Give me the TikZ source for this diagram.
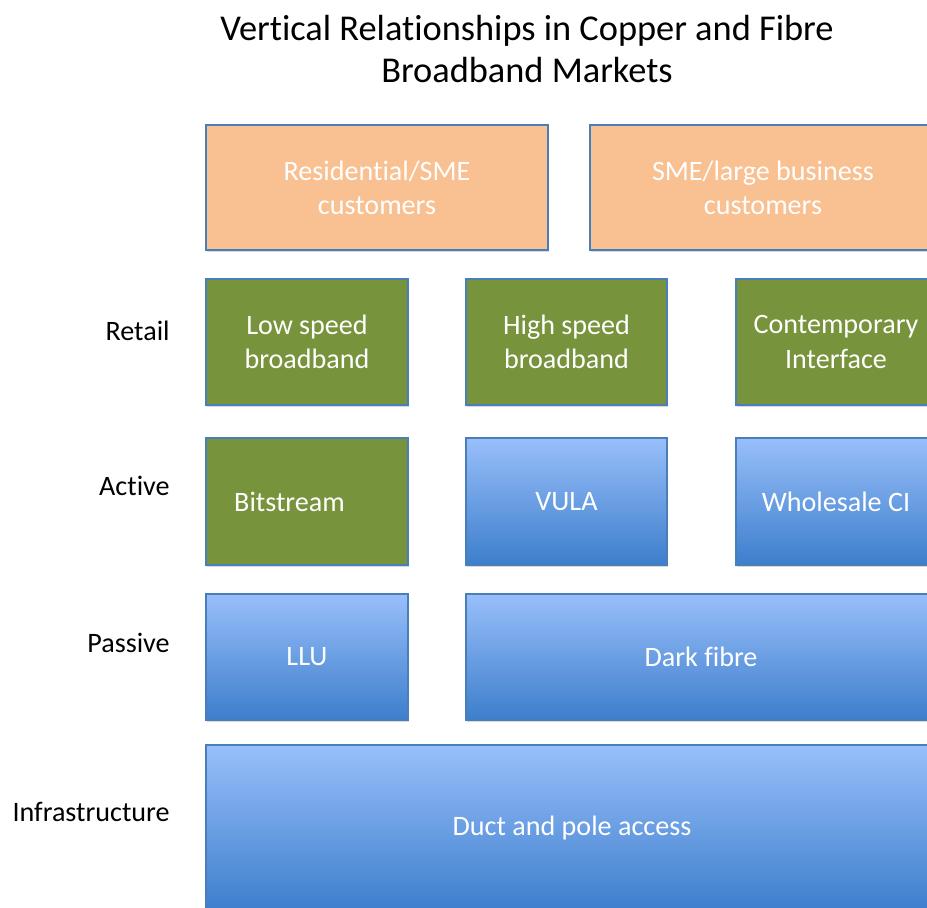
\documentclass[tikz,border=0pt]{standalone}
\usepackage{fontspec}
\setmainfont{Carlito}[Ligatures={TeX,NoCommon}]
\usetikzlibrary{shadows,positioning}
\definecolor{Peach}{HTML}{F9C091}
\definecolor{Olive}{HTML}{77933C}
\definecolor{Edge}{HTML}{4A7EBB}
\definecolor{SkyTop}{HTML}{98BFFA}
\definecolor{SkyMid}{HTML}{7CABF0}
\definecolor{SkyBot}{HTML}{3D7ECC}

\tikzset{
  tile/.style={draw=Edge,line width=0.8pt,text=white,align=center,inner sep=0pt,
    font=\fontsize{16}{19.5}\selectfont,
    drop shadow={shadow xshift=0.7pt,shadow yshift=-1.3pt,opacity=0.3}},
  peach/.style={tile,fill=Peach},
  olive/.style={tile,fill=Olive},
  sky/.style={tile,top color=SkyTop,middle color=SkyMid,bottom color=SkyBot},
  rowlabel/.style={anchor=east,inner sep=0pt,font=\fontsize{16}{19.5}\selectfont},
}

\begin{document}
\begin{tikzpicture}[x=0.02cm,y=-0.02cm]
  \clip (0,0) rectangle (927,907);
  \node[font=\fontsize{20.7}{24.4}\selectfont,align=center] (title) at (527,49)
    {Vertical Relationships in Copper and Fibre\\Broadband Markets};

  % market layers down the left
  \foreach \y/\t in {331/Retail,486/Active,643/Passive,812/Infrastructure}{
    \node[rowlabel] (row\t) at (170,\y) {\t};
  }

  % customers
  \node[peach,minimum width=6.84cm,minimum height=2.5cm] (resid) at (377,187.5) {Residential/SME\\customers};
  \node[peach,minimum width=6.92cm,minimum height=2.5cm] (bizcust) at (763,187.5) {SME/large business\\customers};

  % retail
  \node[olive,minimum width=4.04cm,minimum height=2.52cm] (lowbb) at (307,342) {Low speed\\broadband};
  \node[olive,minimum width=4.02cm,minimum height=2.52cm] (highbb) at (566.5,342) {High speed\\broadband};
  \node[olive,minimum width=4cm,minimum height=2.52cm] (ci) at (836,342) {Contemporary\\Interface};

  % active
  \node[olive,minimum width=4.04cm,minimum height=2.54cm] (bitstream) at (307,501.5) {Bitstream\hspace*{0.7cm}};
  \node[sky,minimum width=4.02cm,minimum height=2.54cm] (vula) at (566.5,501.5) {VULA};
  \node[sky,minimum width=4cm,minimum height=2.54cm] (wci) at (836,501.5) {Wholesale CI};

  % passive
  \node[sky,minimum width=4.04cm,minimum height=2.52cm] (llu) at (307,657) {LLU};
  \node[sky,minimum width=9.4cm,minimum height=2.52cm] (darkfibre) at (701,657) {Dark fibre};

  % infrastructure
  \node[sky,minimum width=14.64cm,minimum height=3.32cm] (duct) at (572,828) {Duct and pole access};
\end{tikzpicture}
\end{document}
